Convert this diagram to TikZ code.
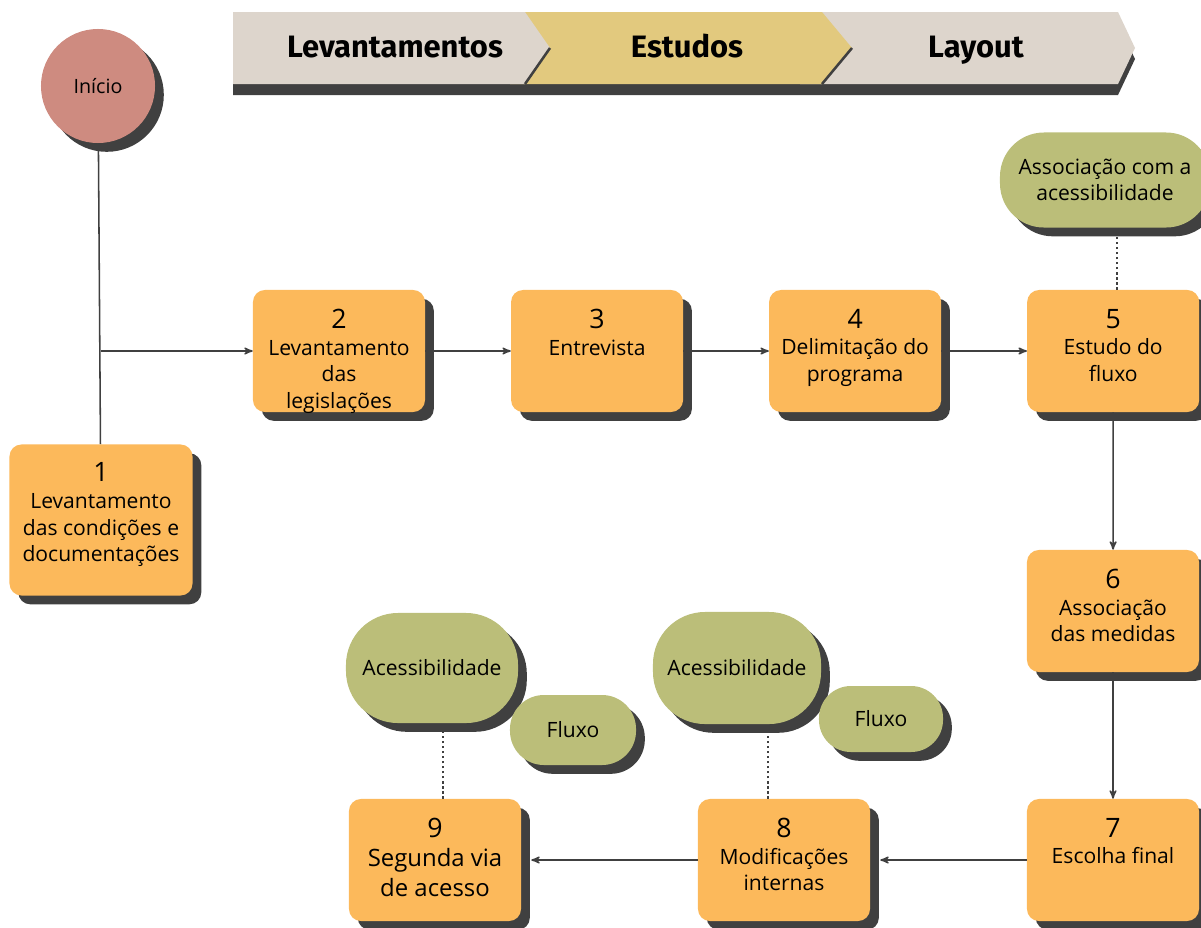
\documentclass[tikz,border=0pt]{standalone}
\usepackage{fontspec}
\setmainfont{Open Sans}
\newfontfamily\cabecalho{Fira Sans}
\usetikzlibrary{arrows,shadows,positioning}

\definecolor{laranja}{RGB}{252,185,91}
\definecolor{verde}{RGB}{187,190,121}
\definecolor{rosa}{RGB}{206,139,128}
\definecolor{bege}{RGB}{221,213,204}
\definecolor{ouro}{RGB}{226,201,126}
\definecolor{sombra}{RGB}{64,64,64}

% caixa com numero em cima e texto logo abaixo
\newcommand{\passo}[3][2.1cm]{\parbox[c][#1][t]{4.3cm}{\centering{\fontsize{19}{19}\selectfont #2}\par #3}}

\tikzset{
    sombreado/.style={drop shadow={shadow xshift=0.22cm,shadow yshift=-0.22cm,fill=sombra,opacity=1}},
    etapa/.style={rectangle,rounded corners=0.3cm,fill=laranja,minimum width=4.3cm,
        minimum height=3.05cm,inner sep=0pt,sombreado},
    pilula/.style={rectangle,fill=verde,align=center,inner sep=0pt,sombreado},
    faixa/.style={anchor=base,font=\cabecalho\bfseries\fontsize{22}{24}\selectfont},
    seta/.style={->,draw=sombra,line width=1.1pt},
    linha/.style={draw=sombra,line width=1.1pt},
    pontilhado/.style={draw=sombra,line width=1.6pt,dotted}
}

\begin{document}
\begin{tikzpicture}[x=0.025cm,y=-0.025cm,>=stealth',node distance=6.45cm,
        font=\fontsize{15}{19}\selectfont]

    \useasboundingbox (0,0) rectangle (1201,927);

    % faixa de etapas
    \fill[sombra] (233,23) -- (1118,23) -- (1135,59) -- (1118,95) -- (233,95) -- cycle;
    \fill[bege] (800,12) -- (1118,12) -- (1135,48) -- (1118,84) -- (800,84) -- cycle;
    \fill[ouro] (510,12) -- (822,12) -- (852,48) -- (822,84) -- (510,84) -- cycle;
    \draw[sombra,line width=1.8pt] (852,48) -- (822,84);
    \fill[bege] (233,12) -- (525,12) -- (550,48) -- (525,84) -- (233,84) -- cycle;
    \draw[sombra,line width=1.8pt] (550,48) -- (525,84);
    \node[faixa] (lev) at (395,57) {Levantamentos};
    \node[faixa] (est) at (687,57) {Estudos};
    \node[faixa] (lay) at (976,57) {Layout};

    \node[circle,fill=rosa,minimum size=2.85cm,inner sep=0pt,sombreado,
        font=\fontsize{14}{16}\selectfont] (inicio) at (98,86) {Início};

    \node[etapa,minimum width=4.575cm,minimum height=3.775cm] (n1) at (101,520)
        {\passo[2.875cm]{1}{Levantamento\\das condições e\\documentações}};
    \node[etapa] (n2) at (339,351) {\passo{2}{Levantamento\\das\\legislações}};
    \node[etapa] (n3) [right of=n2] {\passo{3}{Entrevista}};
    \node[etapa] (n4) [right of=n3] {\passo{4}{Delimitação do\\programa}};
    \node[etapa] (n5) [right of=n4] {\passo{5}{Estudo do\\fluxo}};
    \node[etapa] (n6) at (1113,611) {\passo{6}{Associação\\das medidas}};
    \node[etapa] (n7) at (1113,860) {\passo{7}{Escolha final}};
    \node[etapa] (n8) at (784,860) {\passo{8}{Modificações\\internas}};
    \node[etapa] (n9) at (435,860)
        {\passo{9}{\fontsize{17}{21}\selectfont Segunda via\\de acesso}};

    \node[pilula,minimum width=5.25cm,minimum height=2.375cm,rounded corners=1.1cm]
        (assoc) at (1105,180) {Associação com a\\acessibilidade};
    \node[pilula,minimum width=4.3cm,minimum height=2.75cm,rounded corners=1.3cm]
        (ac1) at (432,668) {Acessibilidade};
    \node[pilula,minimum width=3.15cm,minimum height=1.75cm,rounded corners=0.85cm]
        (fl1) at (573,730) {Fluxo};
    \node[pilula,minimum width=4.2cm,minimum height=2.8cm,rounded corners=1.3cm]
        (ac2) at (737,668) {Acessibilidade};
    \node[pilula,minimum width=3.1cm,minimum height=1.65cm,rounded corners=0.8cm]
        (fl2) at (881,719) {Fluxo};

    \coordinate (ramo) at (n1.north |- n2.west);

    \draw[linha] (inicio) -- (n1);
    \draw[seta] (ramo) -- (n2);
    \draw[seta] (n2) -- (n3);
    \draw[seta] (n3) -- (n4);
    \draw[seta] (n4) -- (n5);
    \draw[seta] (n5) -- (n6);
    \draw[seta] (n6) -- (n7);
    \draw[seta] (n7) -- ([xshift=0.25cm]n8.east);
    \draw[seta] (n8) -- ([xshift=0.25cm]n9.east);

    \draw[pontilhado] ([xshift=0.1cm]n5.north) -- ([xshift=0.1cm]n5.north |- assoc.south);
    \draw[pontilhado] ([xshift=0.2cm]n9.north) -- ([xshift=0.2cm]n9.north |- ac1.south);
    \draw[pontilhado] ([xshift=-0.4cm]n8.north) -- ([xshift=-0.4cm]n8.north |- ac2.south);

\end{tikzpicture}
\end{document}
